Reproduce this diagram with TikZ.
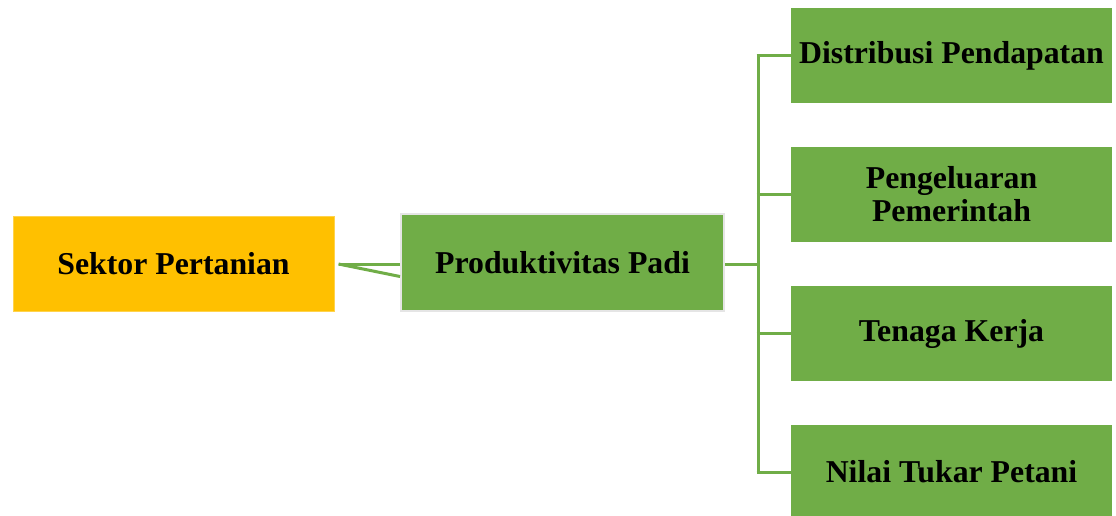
\documentclass[tikz,border=0pt]{standalone}
\usepackage{fontspec}
\setmainfont{Liberation Serif}
\usepackage{tikz}
\usetikzlibrary{positioning}
\definecolor{sektorfill}{HTML}{FFC000}
\definecolor{padigreen}{HTML}{70AD47}
\tikzset{
  box/.style={rectangle, minimum width=321pt, minimum height=95pt, inner sep=0pt,
    align=center, font=\bfseries\fontsize{31.8}{33}\selectfont},
  greenbox/.style={box, fill=padigreen},
  link/.style={draw=padigreen, line width=3pt}
}
\begin{document}
\begin{tikzpicture}[x=1pt, y=-1pt]
		\clip (0,0) rectangle (1116,515);
		\fill[white] (0,0) rectangle (1116,515);
		\node [box, fill=sektorfill, draw=sektorfill!70!white, line width=1pt] (sektor) at (173.5,264) {Sektor Pertanian};
		\node [greenbox, draw=gray!20, line width=2pt, minimum width=323pt, minimum height=97pt] (produktivitas) at (562.5,262.5) {Produktivitas Padi};
		\node [greenbox] (distribusi) at (951.5,55.5) {Distribusi Pendapatan};
		\node [greenbox] (pengeluaran) at (951.5,194.5) {Pengeluaran\\Pemerintah};
		\node [greenbox] (tenaga) at (951.5,333.5) {Tenaga Kerja};
		\node [greenbox] (nilai) at (951.5,472) {Nilai Tukar Petani};
		
		\coordinate (bus) at ([xshift=33pt]produktivitas.east |- 0,264);
		\draw[link] ([xshift=4pt]sektor.east) -- (produktivitas.west |- 0,264);
		\draw[link] ([xshift=4pt]sektor.east) -- ([yshift=-14pt]produktivitas.west);
		\draw[link] (produktivitas.east |- bus) -- (bus);
		\draw[link] (bus |- distribusi.west) -- (bus |- nilai.west);
		\foreach \target in {distribusi, pengeluaran, tenaga, nilai}
			\draw[link] ([xshift=-1.5pt]bus |- \target.west) -- (\target.west);
		\end{tikzpicture}
\end{document}
